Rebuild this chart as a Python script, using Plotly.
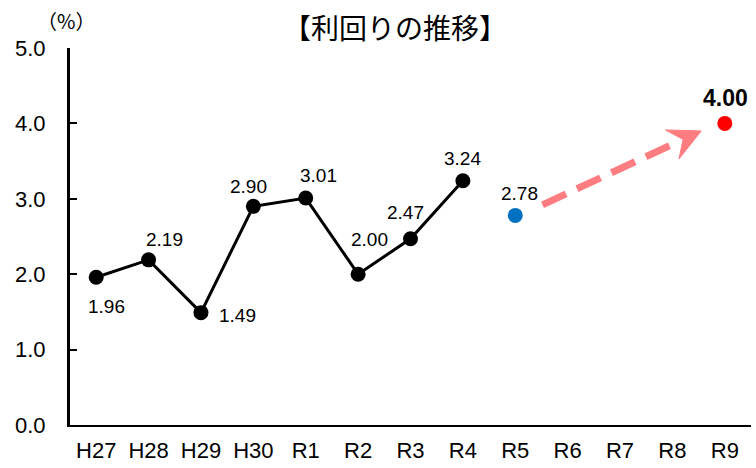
import math
import plotly.graph_objects as go

# Fiscal-year labels and yields (%)
years = ["H27", "H28", "H29", "H30", "R1", "R2", "R3", "R4", "R5", "R6", "R7", "R8", "R9"]
actual_years = ["H27", "H28", "H29", "H30", "R1", "R2", "R3", "R4"]
actual_yield = [1.96, 2.19, 1.49, 2.90, 3.01, 2.00, 2.47, 3.24]
estimate_year = "R5"
estimate_yield = 2.78
target_year = "R9"
target_yield = 4.00
y_ticks = [0, 1, 2, 3, 4, 5]

# label offsets in pixels (dx, dy upward)
actual_offsets = [(10, -29), (16, 20), (37, -3), (-5, 20), (13, 23), (11, 35), (-5, 26), (0, 22)]

idx = {y: i for i, y in enumerate(years)}
xa = [idx[y] for y in actual_years]

LABEL_FONT = "Liberation Sans"
W, H = 756, 468
ML, MR, MT, MB = 70, 5, 48, 43


def px_to_paper(px, py):
    return (px - ML) / (W - ML - MR), (H - MB - py) / (H - MT - MB)


fig = go.Figure()

fig.add_trace(go.Scatter(
    x=xa, y=actual_yield, mode="lines+markers",
    line=dict(color="black", width=3),
    marker=dict(color="black", size=15),
    hoverinfo="skip", showlegend=False,
))
fig.add_trace(go.Scatter(
    x=[idx[estimate_year]], y=[estimate_yield], mode="markers",
    marker=dict(color="#0070C0", size=15),
    hoverinfo="skip", showlegend=False,
))
fig.add_trace(go.Scatter(
    x=[idx[target_year]], y=[target_yield], mode="markers",
    marker=dict(color="#FF0000", size=15),
    hoverinfo="skip", showlegend=False,
))

# data labels
for xv, yv, (dx, dy) in zip(xa, actual_yield, actual_offsets):
    fig.add_annotation(x=xv, y=yv, text=f"{yv:.2f}", showarrow=False,
                       xshift=dx, yshift=dy,
                       font=dict(family=LABEL_FONT, size=19, color="black"))
fig.add_annotation(x=idx[estimate_year], y=estimate_yield, text=f"{estimate_yield:.2f}",
                   showarrow=False, xshift=4, yshift=22,
                   font=dict(family=LABEL_FONT, size=19, color="black"))
fig.add_annotation(x=idx[target_year], y=target_yield, text=f"<b>{target_yield:.2f}</b>",
                   showarrow=False, xshift=1, yshift=25,
                   font=dict(family=LABEL_FONT, size=23, color="black"))

# plot-area geometry (pixels per data unit) for the trend arrow
PX_X = (W - ML - MR) / len(years)
PX_Y = (H - MT - MB) / 5.0
x0_d, y0_d = idx[estimate_year] + 0.52, estimate_yield + 0.14
x1_d, y1_d = idx[target_year] - 0.45, target_yield - 0.10
ddx = (x1_d - x0_d) * PX_X
ddy = (y1_d - y0_d) * PX_Y
L = math.hypot(ddx, ddy)
ux, uy = ddx / L, ddy / L
nx, ny = -uy, ux
head_len, head_w, notch = 32, 16, 12


def to_data(px, py):
    return x0_d + px / PX_X, y0_d + py / PX_Y


arrow_col = "#FF7C80"
# dashed shaft
bx, by = to_data(ux * (L - head_len + 4), uy * (L - head_len + 4))
fig.add_shape(type="line", x0=x0_d, y0=y0_d, x1=bx, y1=by, xref="x", yref="y",
              line=dict(color=arrow_col, width=7, dash="26px,12px"))
# arrow head
tip = to_data(ux * L, uy * L)
back = L - head_len
p1 = to_data(ux * back + nx * head_w, uy * back + ny * head_w)
p2 = to_data(ux * (back + notch), uy * (back + notch))
p3 = to_data(ux * back - nx * head_w, uy * back - ny * head_w)
path = f"M {tip[0]},{tip[1]} L {p1[0]},{p1[1]} L {p2[0]},{p2[1]} L {p3[0]},{p3[1]} Z"
fig.add_shape(type="path", path=path, xref="x", yref="y",
              fillcolor=arrow_col, line=dict(color=arrow_col, width=1))

# title and unit
tx, ty = px_to_paper(395, 27)
fig.add_annotation(x=tx, y=ty, xref="paper", yref="paper", text="【利回りの推移】",
                   showarrow=False, xanchor="center", yanchor="middle",
                   font=dict(family="Noto Sans CJK JP", size=28, color="black"))
ux_, uy_ = px_to_paper(66, 21)
fig.add_annotation(x=ux_, y=uy_, xref="paper", yref="paper", text="（%）",
                   showarrow=False, xanchor="center", yanchor="middle",
                   font=dict(family="Noto Sans CJK JP", size=20, color="black"))

fig.update_layout(
    width=W, height=H,
    margin=dict(l=ML, r=MR, t=MT, b=MB, autoexpand=False),
    paper_bgcolor="white", plot_bgcolor="white",
    showlegend=False,
)

fig.update_xaxes(
    range=[-0.5, len(years) - 0.5], automargin=False,
    tickmode="array", tickvals=list(range(len(years))), ticktext=years,
    showgrid=False, zeroline=False,
    showline=True, linecolor="black", linewidth=2,
    ticks="", ticklabelstandoff=5,
    tickfont=dict(family=LABEL_FONT, size=22, color="black"),
)
fig.update_yaxes(
    range=[0, 5], tickmode="array", tickvals=y_ticks, automargin=False,
    ticktext=[f"{v:.1f}" for v in y_ticks],
    showgrid=False, zeroline=False,
    showline=True, linecolor="black", linewidth=3,
    ticks="inside", ticklen=7, tickwidth=2, tickcolor="black",
    ticklabelstandoff=17,
    tickfont=dict(family=LABEL_FONT, size=22, color="black"),
)

fig.write_html("out.html")
